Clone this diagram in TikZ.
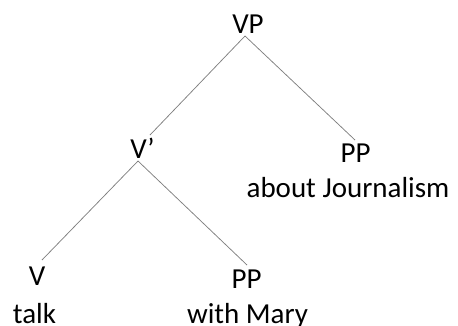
\documentclass[tikz,border=0pt]{standalone}
\usepackage{fontspec}
\setmainfont{Carlito}
\begin{document}
\begin{tikzpicture}[x=1pt,y=-1pt,
  lbl/.style={inner sep=0pt,outer sep=0pt,anchor=base,font=\fontsize{29}{32}\selectfont,text=black},
  branch/.style={draw=black!50,line width=0.75pt}]
\useasboundingbox (0,0) rectangle (458,325);
\node[lbl] (VP) at (248,33) {VP};
\node[lbl] (Vbar) at (142.5,158) {V’};
\node[lbl] (PPa) at (355.5,162) {PP};
\node[lbl] (PPaw) at (348,197) {about Journalism};
\node[lbl] (V) at (37,285) {V};
\node[lbl] (Vw) at (34.5,323) {talk};
\node[lbl] (PPb) at (246.5,288) {PP};
\node[lbl] (PPbw) at (247.5,323) {with Mary};
\draw[branch] ([shift={(-3,3)}]VP.base) -- ([shift={(7.5,-23)}]Vbar.base);
\draw[branch] ([shift={(-3,3)}]VP.base) -- ([shift={(-0.5,-22)}]PPa.base);
\draw[branch] ([shift={(-4.5,3)}]Vbar.base) -- ([shift={(5,-25)}]V.base);
\draw[branch] ([shift={(-4.5,3)}]Vbar.base) -- ([shift={(0.5,-23)}]PPb.base);
\end{tikzpicture}
\end{document}
